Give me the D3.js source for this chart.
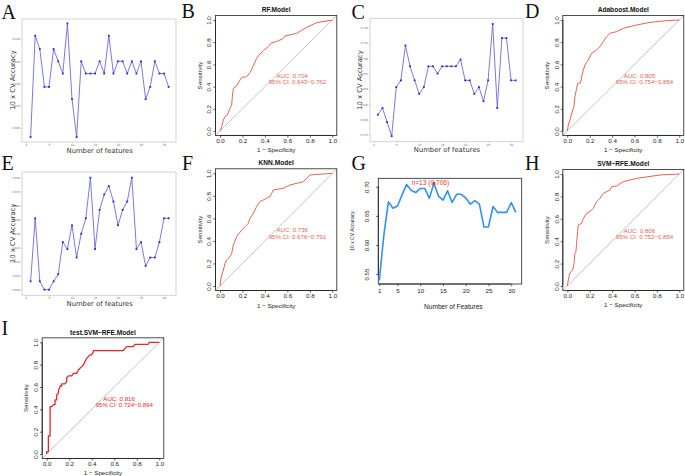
<!DOCTYPE html>
<html><head><meta charset="utf-8">
<script src="https://cdn.jsdelivr.net/npm/d3@7"></script>
<style>body{margin:0;background:#fff}svg{display:block}</style>
</head><body>
<svg id="c" width="685" height="476"></svg>
<script>
// ---------------- data ----------------
const featureCounts = [1,2,3,4,5,6,7,8,9,10,11,12,13,14,15,16,17,18,19,20,21,22,23,24,25,26,27,28,29,30,31];
const featureTicks = [0,5,10,15,20,25,30];

const accA = [0.592,0.683,0.671,0.637,0.637,0.671,0.660,0.649,0.694,0.626,0.592,0.660,0.649,0.649,0.649,0.660,0.649,0.683,0.649,0.660,0.660,0.649,0.660,0.649,0.660,0.626,0.637,0.660,0.649,0.649,0.637];
const accTicksA = [0.60,0.62,0.64,0.66,0.68];

const accC = [0.608,0.619,0.596,0.573,0.653,0.664,0.721,0.687,0.664,0.642,0.653,0.687,0.687,0.675,0.687,0.687,0.687,0.687,0.698,0.664,0.664,0.642,0.653,0.630,0.664,0.756,0.619,0.733,0.733,0.664,0.664];
const accTicksC = [0.575,0.600,0.625,0.650,0.675,0.700,0.725,0.750];

const accE = [0.606,0.651,0.606,0.600,0.600,0.606,0.611,0.634,0.629,0.646,0.623,0.640,0.651,0.680,0.629,0.657,0.668,0.674,0.663,0.646,0.657,0.663,0.680,0.629,0.634,0.617,0.623,0.623,0.634,0.651,0.651];
const accTicksE = [0.60,0.61,0.62,0.63,0.64,0.65,0.66,0.67,0.68];

const rfeAcc = [0.539,0.617,0.674,0.663,0.667,0.686,0.704,0.694,0.690,0.697,0.697,0.680,0.706,0.684,0.677,0.693,0.673,0.687,0.687,0.681,0.670,0.676,0.670,0.631,0.631,0.666,0.656,0.656,0.656,0.673,0.656];
const rfeTicksX = [1,5,10,15,20,25,30];
const rfeTicksY = [0.55,0.60,0.65,0.70];
const rfeBest = {n: 13, acc: 0.706, label: "n=13 (0.706)"};

const rocTicks = [0,0.2,0.4,0.6,0.8,1.0];

const rocRF = [[0,0],[0.015,0.039],[0.030,0.099],[0.045,0.129],[0.065,0.144],[0.089,0.204],[0.104,0.234],[0.110,0.309],[0.119,0.384],[0.148,0.405],[0.178,0.459],[0.193,0.483],[0.237,0.489],[0.267,0.526],[0.297,0.586],[0.326,0.655],[0.356,0.694],[0.386,0.724],[0.430,0.760],[0.460,0.796],[0.504,0.805],[0.564,0.835],[0.579,0.856],[0.682,0.880],[0.772,0.934],[0.861,0.976],[1,1]];
const rocAda = [[0,0],[0.009,0.054],[0.024,0.099],[0.048,0.189],[0.060,0.219],[0.068,0.309],[0.083,0.384],[0.092,0.429],[0.119,0.435],[0.128,0.489],[0.143,0.550],[0.158,0.595],[0.188,0.640],[0.217,0.700],[0.262,0.730],[0.292,0.760],[0.321,0.805],[0.351,0.850],[0.381,0.880],[0.440,0.895],[0.500,0.925],[0.619,0.955],[0.738,0.979],[0.887,0.994],[1,1]];
const rocKNN = [[0,0],[0.006,0.053],[0.015,0.098],[0.030,0.142],[0.045,0.201],[0.059,0.231],[0.089,0.260],[0.104,0.290],[0.119,0.364],[0.148,0.438],[0.193,0.497],[0.223,0.527],[0.252,0.556],[0.267,0.601],[0.297,0.645],[0.326,0.704],[0.356,0.749],[0.415,0.778],[0.445,0.793],[0.460,0.822],[0.475,0.852],[0.564,0.867],[0.623,0.896],[0.742,0.926],[0.772,0.956],[0.801,0.985],[1,1]];
const rocSVM = [[0,0],[0.009,0.054],[0.018,0.098],[0.030,0.128],[0.048,0.143],[0.060,0.202],[0.068,0.292],[0.077,0.307],[0.083,0.381],[0.092,0.485],[0.098,0.545],[0.128,0.560],[0.143,0.604],[0.173,0.649],[0.202,0.664],[0.232,0.693],[0.262,0.753],[0.292,0.783],[0.321,0.827],[0.381,0.857],[0.396,0.887],[0.440,0.893],[0.500,0.932],[0.619,0.961],[0.827,0.991],[1,1]];
const rocTest = [[0,0],[0,0.021],[0.015,0.021],[0.015,0.161],[0.030,0.161],[0.030,0.424],[0.044,0.424],[0.059,0.439],[0.074,0.445],[0.074,0.484],[0.089,0.484],[0.089,0.528],[0.104,0.543],[0.104,0.573],[0.118,0.597],[0.118,0.609],[0.133,0.609],[0.133,0.627],[0.163,0.627],[0.178,0.648],[0.178,0.684],[0.192,0.699],[0.222,0.699],[0.237,0.722],[0.266,0.722],[0.281,0.752],[0.296,0.767],[0.311,0.782],[0.325,0.797],[0.340,0.827],[0.355,0.857],[0.370,0.872],[0.385,0.887],[0.399,0.887],[0.414,0.916],[0.414,0.925],[0.680,0.925],[0.695,0.946],[0.710,0.961],[0.769,0.961],[0.784,0.982],[0.902,0.982],[0.911,1],[1,1]];

// ---------------- drawing ----------------
const svg = d3.select("#c");
svg.append("rect").attr("width",685).attr("height",476).attr("fill","#fff");
const SANS = "Liberation Sans, Arial, sans-serif";
const DJ = "DejaVu Sans, sans-serif";

function panelLetter(t,x,y){
  svg.append("text").attr("x",x).attr("y",y).attr("font-family","Liberation Serif, serif")
    .attr("font-size",20).attr("fill","#111").text(t);
}

function featurePanel(o){
  const g = svg.append("g");
  const x = d3.scaleLinear().domain(o.xd).range([o.x0,o.x1]);
  const y = d3.scaleLinear().domain(o.yd).range([o.y1,o.y0]);
  g.append("rect").attr("x",o.x0).attr("y",o.y0).attr("width",o.x1-o.x0).attr("height",o.y1-o.y0)
    .attr("fill","none").attr("stroke","#cfcfcf").attr("stroke-width",0.9);
  const ax = g.append("g").attr("transform",`translate(0,${o.y1})`)
    .call(d3.axisBottom(x).tickValues(featureTicks).tickSize(1.2).tickFormat(d3.format("d")));
  ax.select(".domain").remove();
  ax.selectAll("line").attr("stroke","#999").attr("stroke-width",0.4);
  ax.selectAll("text").attr("font-size",2.8).attr("font-family",DJ).attr("fill","#666").attr("y",2.2);
  const ay = g.append("g").attr("transform",`translate(${o.x0},0)`)
    .call(d3.axisLeft(y).tickValues(o.yt).tickSize(1.2).tickFormat(d3.format(".3f")));
  ay.select(".domain").remove();
  ay.selectAll("line").attr("stroke","#999").attr("stroke-width",0.4);
  ay.selectAll("text").attr("font-size",2.6).attr("font-family",DJ).attr("fill","#666").attr("x",-2);
  const line = d3.line().x((d,i)=>x(featureCounts[i])).y(d=>y(d));
  g.append("path").attr("d",line(o.vals)).attr("fill","none").attr("stroke","#6a6ae0").attr("stroke-width",0.9);
  g.selectAll("rect.m").data(o.vals).enter().append("rect").attr("class","m")
    .attr("x",(d,i)=>x(featureCounts[i])-0.9).attr("y",d=>y(d)-0.9).attr("width",1.8).attr("height",1.8)
    .attr("fill","#2626d0");
  g.append("text").attr("x",o.xlx).attr("y",o.xly).attr("text-anchor","middle")
    .attr("font-family",DJ).attr("font-size",6.8).attr("fill","#333").text("Number of features");
  g.append("text").attr("transform",`translate(${o.ylx},${o.yly}) rotate(-90)`).attr("text-anchor","middle")
    .attr("font-family",DJ).attr("font-size",6.8).attr("fill","#333").text("10 x CV Accuracy");
}

function rocPanel(o){
  const g = svg.append("g");
  const x = d3.scaleLinear().domain([0,1]).range([o.ax0,o.ax1]);
  const y = d3.scaleLinear().domain([0,1]).range([o.ay0,o.ay1]);
  const bx0 = x(-0.04), bx1 = x(1.04), by0 = y(1.04), by1 = y(-0.04);
  g.append("line").attr("x1",bx0).attr("y1",by1).attr("x2",bx1).attr("y2",by0)
    .attr("stroke","#b5b5b5").attr("stroke-width",0.8);
  const line = d3.line().x(d=>x(d[0])).y(d=>y(d[1]));
  g.append("path").attr("d",line(o.data)).attr("fill","none").attr("stroke",o.color)
    .attr("stroke-width",o.lw).attr("stroke-linejoin","round");
  g.append("rect").attr("x",bx0).attr("y",by0).attr("width",bx1-bx0).attr("height",by1-by0)
    .attr("fill","none").attr("stroke","#222").attr("stroke-width",0.8);
  const ax = g.append("g").attr("transform",`translate(0,${by1})`)
    .call(d3.axisBottom(x).tickValues(rocTicks).tickSize(2.2).tickSizeOuter(0).tickFormat(d3.format(".1f")));
  ax.select(".domain").attr("d",`M${x(0)},0H${x(1)}`).attr("stroke","#222").attr("stroke-width",0.8);
  ax.selectAll("line").attr("stroke","#222").attr("stroke-width",0.7);
  ax.selectAll("text").attr("font-size",6.2).attr("font-family",SANS).attr("fill","#222").attr("y",3.4);
  const ay = g.append("g").attr("transform",`translate(${bx0},0)`)
    .call(d3.axisLeft(y).tickValues(rocTicks).tickSize(2.2).tickSizeOuter(0).tickFormat(d3.format(".1f")));
  ay.select(".domain").attr("d",`M0,${y(0)}V${y(1)}`).attr("stroke","#222").attr("stroke-width",0.8);
  ay.selectAll("line").attr("stroke","#222").attr("stroke-width",0.7);
  ay.selectAll("text").attr("font-size",6.2).attr("font-family",SANS).attr("fill","#222")
    .attr("transform","rotate(-90)").attr("x",0).attr("y",-4.2).attr("dy",0).attr("text-anchor","middle");
  g.append("text").attr("x",(bx0+bx1)/2).attr("y",by0-3.3).attr("text-anchor","middle")
    .attr("font-family",SANS).attr("font-weight","bold").attr("font-size",6.6).attr("fill","#111").text(o.title);
  g.append("text").attr("x",(bx0+bx1)/2).attr("y",by1+17).attr("text-anchor","middle")
    .attr("font-family",SANS).attr("font-size",6.2).attr("fill","#222").text("1 \u2212 Specificity");
  g.append("text").attr("transform",`translate(${bx0-13.8},${(by0+by1)/2}) rotate(-90)`).attr("text-anchor","middle")
    .attr("font-family",SANS).attr("font-size",6.2).attr("fill","#222").text("Sensitivity");
  g.append("text").attr("x",x(0.503)).attr("y",y(0.495)).attr("dy","0.35em")
    .attr("font-family",SANS).attr("font-size",6.1).attr("fill",o.color).text(o.auc);
  g.append("text").attr("x",x(0.433)).attr("y",y(0.44)).attr("dy","0.35em")
    .attr("font-family",SANS).attr("font-size",6.1).attr("fill",o.color).text(o.ci);
}

function rfePanel(){
  const g = svg.append("g");
  const x = d3.scaleLinear().domain([0.78,32.3]).range([378.3,521.7]);
  const y = d3.scaleLinear().domain([0.533,0.7145]).range([284,178.3]);
  g.append("rect").attr("x",378.3).attr("y",178.3).attr("width",521.7-378.3).attr("height",284-178.3)
    .attr("fill","none").attr("stroke","#222").attr("stroke-width",0.8);
  const line = d3.line().x((d,i)=>x(featureCounts[i])).y(d=>y(d));
  g.append("path").attr("d",line(rfeAcc)).attr("fill","none").attr("stroke","#3390f2")
    .attr("stroke-width",1.6).attr("stroke-linejoin","round");
  const ax = g.append("g").attr("transform","translate(0,284)")
    .call(d3.axisBottom(x).tickValues(rfeTicksX).tickSize(2.2).tickSizeOuter(0).tickFormat(d3.format("d")));
  ax.select(".domain").attr("d",`M${x(1)},0H${x(30)}`).attr("stroke","#222").attr("stroke-width",0.8);
  ax.selectAll("line").attr("stroke","#222").attr("stroke-width",0.7);
  ax.selectAll("text").attr("font-size",6.2).attr("font-family",SANS).attr("fill","#222").attr("y",9).attr("dy",0);
  const ay = g.append("g").attr("transform","translate(378.3,0)")
    .call(d3.axisLeft(y).tickValues(rfeTicksY).tickSize(2.2).tickSizeOuter(0).tickFormat(d3.format(".2f")));
  ay.select(".domain").attr("d",`M0,${y(0.55)}V${y(0.70)}`).attr("stroke","#222").attr("stroke-width",0.8);
  ay.selectAll("line").attr("stroke","#222").attr("stroke-width",0.7);
  ay.selectAll("text").attr("font-size",6).attr("font-family",SANS).attr("fill","#222")
    .attr("transform","rotate(-90)").attr("x",0).attr("y",-9).attr("dy",0).attr("text-anchor","middle");
  g.append("text").attr("x",453.3).attr("y",309).attr("text-anchor","middle")
    .attr("font-family",SANS).attr("font-size",6.6).attr("fill","#222").text("Number of Features");
  g.append("text").attr("transform","translate(353.6,231) rotate(-90)").attr("text-anchor","middle")
    .attr("font-family",SANS).attr("font-size",5).attr("fill","#222").text("10 x CV Accuracy");
  g.append("circle").attr("cx",x(rfeBest.n)).attr("cy",y(rfeBest.acc)).attr("r",1.4).attr("fill","#e8262a");
  g.append("text").attr("x",x(rfeBest.n)-3.5).attr("y",184.6).attr("text-anchor","middle")
    .attr("font-family",SANS).attr("font-size",6.6).attr("fill","#e03a3a").text(rfeBest.label);
}

// Panels
featurePanel({x0:22,x1:176,y0:19,y1:142,xd:[-0.87,32.6],yd:[0.5875,0.698],vals:accA,yt:accTicksA,xlx:99.7,xly:152.5,ylx:15.4,yly:80});
featurePanel({x0:370,x1:523,y0:18.3,y1:141.7,xd:[-0.72,32.6],yd:[0.564,0.7653],vals:accC,yt:accTicksC,xlx:447,xly:152,ylx:362.4,yly:80});
featurePanel({x0:22,x1:176,y0:172.1,y1:295.3,xd:[-0.87,32.6],yd:[0.596,0.684],vals:accE,yt:accTicksE,xlx:99.7,xly:305.6,ylx:15.4,yly:233.3});

const salmon = "#e2644f";
rocPanel({ax0:220,ax1:332.3,ay0:131,ay1:20,data:rocRF,title:"RF.Model",auc:"AUC: 0.704",ci:"95% CI: 0.643\u22120.762",color:salmon,lw:1});
rocPanel({ax0:567.3,ax1:679.3,ay0:131,ay1:20,data:rocAda,title:"Adaboost.Model",auc:"AUC: 0.805",ci:"95% CI: 0.754\u22120.854",color:salmon,lw:1});
rocPanel({ax0:220,ax1:332.3,ay0:286,ay1:173.3,data:rocKNN,title:"KNN.Model",auc:"AUC: 0.736",ci:"95% CI: 0.676\u22120.791",color:salmon,lw:1});
rocPanel({ax0:567.3,ax1:679.3,ay0:286,ay1:174,data:rocSVM,title:"SVM\u2212RFE.Model",auc:"AUC: 0.806",ci:"95% CI: 0.752\u22120.854",color:salmon,lw:1});
rocPanel({ax0:46.7,ax1:159.3,ay0:454,ay1:342.3,data:rocTest,title:"test.SVM\u2212RFE.Model",auc:"AUC: 0.816",ci:"95% CI: 0.724\u22120.894",color:"#e3262b",lw:1.3});

rfePanel();

panelLetter("A",1.5,18.5);
panelLetter("B",181.5,18);
panelLetter("C",351.5,18.5);
panelLetter("D",525,18);
panelLetter("E",1.5,170);
panelLetter("F",182,170);
panelLetter("G",351.5,170);
panelLetter("H",525,170);
panelLetter("I",1.5,335);
</script>
</body></html>
